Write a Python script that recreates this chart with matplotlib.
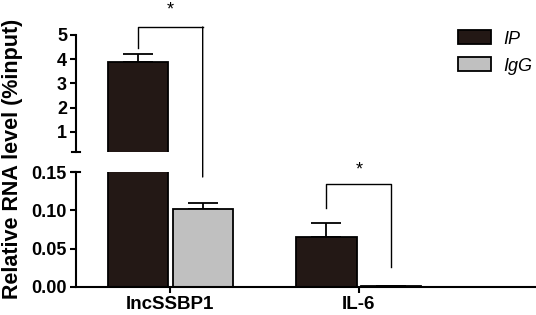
import matplotlib.pyplot as plt
from matplotlib.patches import ConnectionPatch, Patch
import numpy as np

plt.rcParams['font.family'] = ['Liberation Sans', 'DejaVu Sans']

# data
genes = ["lncSSBP1", "IL-6"]
ip_vals = [3.9, 0.065]
ip_err = [0.30, 0.018]
igg_vals = [0.102, 0.001]
igg_err = [0.008, 0.0]

ip_color = '#231815'
igg_color = '#c0c0c0'

x = np.arange(len(genes))
w = 0.32
off = 0.172

fig = plt.figure(figsize=(5.36, 3.15), dpi=100)
ax_bot = fig.add_axes([0.1418, 0.0889, 0.8582, 0.365])
ax_top = fig.add_axes([0.1418, 0.5175, 0.8582, 0.3714])

for ax in (ax_top, ax_bot):
    ax.bar(x - off, ip_vals, w, color=ip_color, edgecolor='black', linewidth=1.3, zorder=2)
    ax.bar(x + off, igg_vals, w, color=igg_color, edgecolor='black', linewidth=1.3, zorder=2)
    ax.errorbar(x - off, ip_vals, yerr=[np.zeros(2), ip_err], fmt='none',
                ecolor='black', elinewidth=1.3, capsize=11, capthick=1.3, zorder=1)
    ax.errorbar(x + off, igg_vals, yerr=[np.zeros(2), igg_err], fmt='none',
                ecolor='black', elinewidth=1.3, capsize=11, capthick=1.3, zorder=1)
    ax.set_xlim(-0.5, 1.94)
    for s in ('top', 'right'):
        ax.spines[s].set_visible(False)
    ax.spines['left'].set_linewidth(1.5)
    ax.spines['bottom'].set_linewidth(1.5)
    ax.tick_params(axis='both', width=1.5, length=4, labelsize=13, pad=2.5)

# top segment
ax_top.set_ylim(0.175, 5)
ax_top.set_yticks([1, 2, 3, 4, 5])
ax_top.set_yticklabels(['1', '2', '3', '4', '5'], fontweight='bold')
ax_top.spines['bottom'].set_visible(False)
ax_top.set_xticks([])

# bottom segment
ax_bot.set_ylim(0, 0.15)
ax_bot.set_yticks([0.00, 0.05, 0.10, 0.15])
ax_bot.set_yticklabels(['0.00', '0.05', '0.10', '0.15'], fontweight='bold')
ax_bot.set_xticks(x)
ax_bot.set_xticklabels(genes, fontweight='bold', fontsize=13.5)

# break marks
ax_top.plot([-0.009, 0.009], [0.175, 0.175], color='black', lw=1.5,
            transform=ax_top.get_yaxis_transform(), clip_on=False)
ax_bot.plot([-0.009, 0.009], [0.15, 0.15], color='black', lw=1.5,
            transform=ax_bot.get_yaxis_transform(), clip_on=False)

# significance bracket lncSSBP1
xl, xr = x[0] - off, x[0] + off
ax_top.plot([xl, xl, xr], [4.46, 5.33, 5.33], color='black', lw=1.0, clip_on=False)
con = ConnectionPatch(xyA=(xr, 5.33), coordsA=ax_top.transData,
                      xyB=(xr, 0.1435), coordsB=ax_bot.transData,
                      color='black', lw=1.0)
fig.add_artist(con)
ax_top.text(x[0], 5.7, '*', ha='center', va='bottom', fontsize=13, clip_on=False)

# significance bracket IL-6
xl, xr = x[1] - off, x[1] + off
ax_bot.plot([xl, xl, xr, xr], [0.103, 0.134, 0.134, 0.026], color='black', lw=1.0)
ax_bot.text(x[1], 0.141, '*', ha='center', va='bottom', fontsize=13, clip_on=False)

fig.text(0.024, 0.497, 'Relative RNA level (%input)', rotation=90, ha='center',
         va='center', fontsize=15.5, fontweight='bold')

handles = [Patch(facecolor=ip_color, edgecolor='black', linewidth=1.3, label='IP'),
           Patch(facecolor=igg_color, edgecolor='black', linewidth=1.3, label='IgG')]
fig.legend(handles=handles, loc='upper left', bbox_to_anchor=(0.848, 0.915),
           frameon=False, prop={'style': 'italic', 'size': 13},
           handlelength=1.8, handleheight=0.8, handletextpad=0.7, labelspacing=0.55,
           borderpad=0.2, borderaxespad=0)

fig.savefig('out.png', dpi=100)
